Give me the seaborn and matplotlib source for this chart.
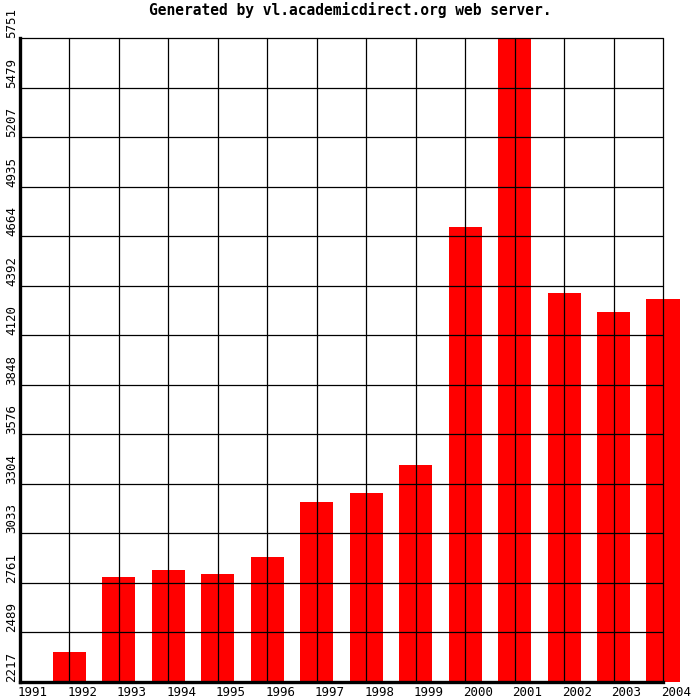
import matplotlib
matplotlib.use('Agg')
import matplotlib.pyplot as plt
import matplotlib.patches as mpatches
import matplotlib.transforms as mtransforms
import seaborn as sns
import pandas as pd

# 데이터
years = ['1991', '1992', '1993', '1994', '1995', '1996', '1997',
         '1998', '1999', '2000', '2001', '2002', '2003', '2004']
values = [2217, 2382, 2795, 2832, 2811, 2905, 3206,
          3256, 3409, 4716, 5751, 4353, 4249, 4320]
y_ticks = [2217, 2489, 2761, 3033, 3304, 3576, 3848,
           4120, 4392, 4664, 4935, 5207, 5479, 5751]
title = 'Generated by vl.academicdirect.org web server.'

df = pd.DataFrame({'year': years, 'value': values})

sns.set_style('white')
plt.rcParams['font.family'] = ['DejaVu Sans Mono', 'DejaVu Sans']
plt.rcParams['text.color'] = 'black'
plt.rcParams['xtick.color'] = 'black'
plt.rcParams['ytick.color'] = 'black'

fig = plt.figure(figsize=(7, 7), dpi=100)
ax = fig.add_axes([20 / 700, 1 - 682 / 700, 643 / 700, 644 / 700])

sns.barplot(data=df, x='year', y='value', color='#ff0000', saturation=1,
            width=0.67, ax=ax, zorder=1)

# 막대는 위/오른쪽으로 튀어나올 수 있게, 아래쪽만 잘라냄
clip = mpatches.Rectangle((-0.1, 0), 1.2, 1.1, transform=ax.transAxes,
                          facecolor='none', edgecolor='none')
for p in ax.patches:
    p.set_edgecolor('none')
    p.set_clip_path(clip)

ax.set_xlim(0, len(years) - 1)
ax.set_ylim(y_ticks[0], y_ticks[-1])
ax.set_yticks(y_ticks)
ax.set_yticklabels([str(t) for t in y_ticks], rotation=90, va='bottom',
                   ha='center', fontsize=9)
ax.set_xticks(range(len(years)))
ax.set_xticklabels(years, ha='left', fontsize=9)
ax.tick_params(axis='y', length=0, pad=6)
ax.tick_params(axis='x', length=0, pad=3)

# x 라벨을 살짝 왼쪽으로
shift = mtransforms.ScaledTranslation(-2 / 100, 0, fig.dpi_scale_trans)
for lbl in ax.get_xticklabels():
    lbl.set_transform(lbl.get_transform() + shift)

ax.grid(True, color='black', linewidth=0.9)
ax.set_axisbelow(False)
for g in ax.get_xgridlines() + ax.get_ygridlines():
    g.set_zorder(3)
    g.set_clip_on(False)

ax.set_xlabel('')
ax.set_ylabel('')
for s in ['top', 'right']:
    ax.spines[s].set_visible(False)
for s in ['left', 'bottom']:
    ax.spines[s].set_linewidth(2.4)
    ax.spines[s].set_color('black')
    ax.spines[s].set_zorder(4)

fig.text(0.5, 1 - 10 / 700, title, ha='center', va='center',
         fontsize=10.5, fontweight='bold')

fig.savefig('out.png', dpi=100, facecolor='white')
